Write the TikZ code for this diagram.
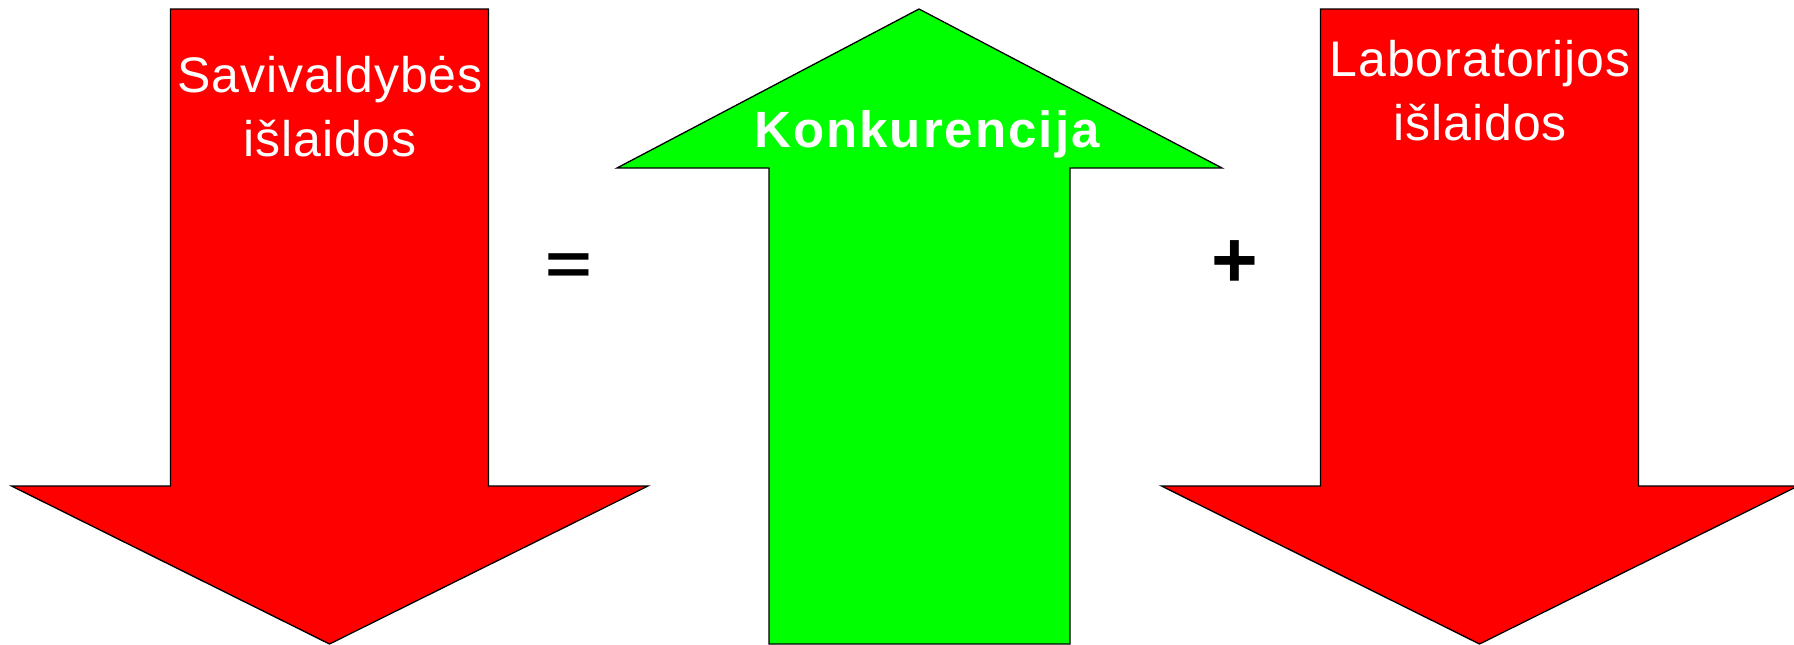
\documentclass[tikz,border=0pt]{standalone}
\usepackage{fontspec}
\setmainfont{Liberation Sans}
\newfontfamily\lblfont[LetterSpace=2]{Liberation Sans}
\newfontfamily\konkfont[LetterSpace=4]{Liberation Sans}
\definecolor{costred}{RGB}{255,0,0}
\definecolor{gainGreen}{RGB}{0,255,0}

\begin{document}
\begin{tikzpicture}[x=1pt,y=-1pt]
	\tikzstyle{every node}+=[inner sep=0pt]
	\tikzstyle{bigarrow}=[draw=black, line width=1.3pt, line join=miter]
	\tikzstyle{arrowlabel}=[text=white, align=center, anchor=base, font=\lblfont\fontsize{50}{63.5}\selectfont]
	\tikzstyle{opsign}=[text=black, font=\bfseries\fontsize{80}{96}\selectfont]
	\useasboundingbox (0,0) rectangle (1794,645);
	% savivaldybes islaidos
	\draw [bigarrow, fill=costred] (170.5,9) -- (488.5,9) -- (488.5,486) -- (648,486) -- (329.5,644) -- (11.5,486) -- (170.5,486) -- cycle;
	\node (savexp) [arrowlabel] at (330,156) {Savivaldybės\\išlaidos};
	% konkurencija
	\draw [bigarrow, fill=gainGreen] (769,644) -- (769,168) -- (617,168) -- (919,9) -- (1222,168) -- (1070,168) -- (1070,644) -- cycle;
	\node (konk) [text=white, anchor=base, font=\konkfont\bfseries\fontsize{51}{60}\selectfont] at (927,147) {Konkurencija};
	% laboratorijos islaidos
	\draw [bigarrow, fill=costred] (1320.5,9) -- (1638.5,9) -- (1638.5,486) -- (1798,486) -- (1479.5,644) -- (1161.5,486) -- (1320.5,486) -- cycle;
	\node (labexp) [arrowlabel] at (1480,140) {Laboratorijos\\išlaidos};
	% = and +
	\node (eqsign) [opsign] at (569,269.5) {\scalebox{1}[0.74]{=}};
	\node (plussign) [opsign] at (1234.5,264.5) {+};
\end{tikzpicture}
\end{document}
